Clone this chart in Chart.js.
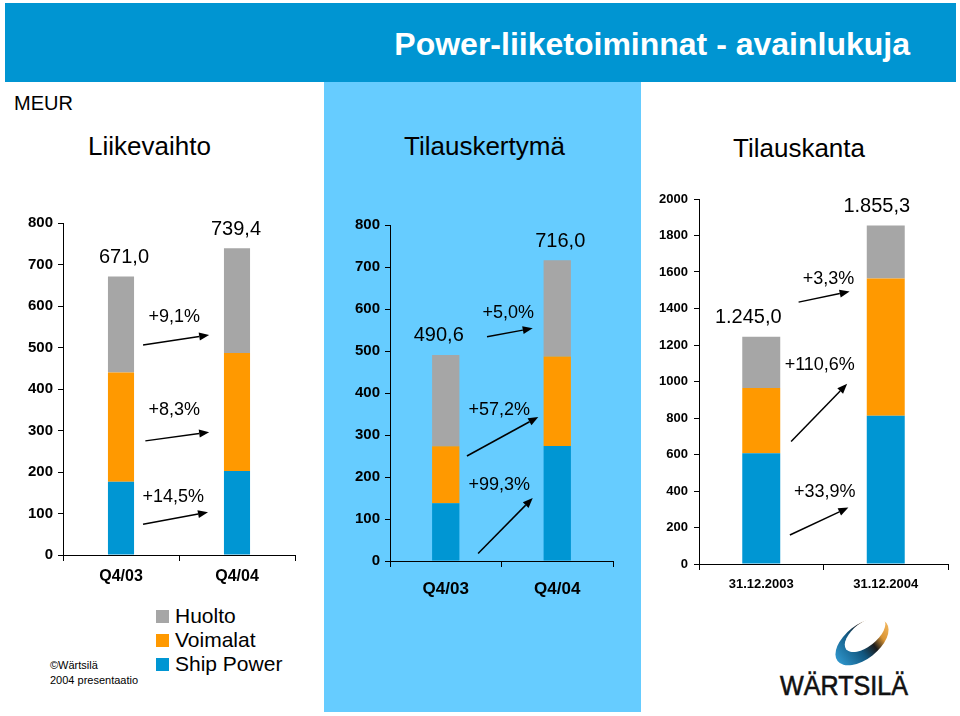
<!DOCTYPE html>
<html>
<head>
<meta charset="utf-8">
<script src="https://cdn.jsdelivr.net/npm/chart.js@4.4.1/dist/chart.umd.min.js"></script>
<style>
  body { margin:0; width:960px; height:716px; position:relative; overflow:hidden; background:#fff;
         font-family:"Liberation Sans", Arial, sans-serif; color:#000; }
  .abs { position:absolute; line-height:1; white-space:nowrap; }
  #header { position:absolute; left:5px; top:3px; width:951px; height:79px; background:#0095d2; }
  #title { right:46px; top:25px; font-size:32px; font-weight:bold; color:#fff; }
  #panel { position:absolute; left:324px; top:82px; width:317px; height:630px; background:#66ccff; }
  .sub { font-size:26px; top:133px; }
  canvas { position:absolute; }
  #legend { position:absolute; left:156px; top:604px; }
  #legend div { height:24px; font-size:21px; line-height:24px; display:flex; align-items:center; }
  #legend span.sw { width:13px; height:13px; margin-right:6px; display:inline-block; }
  #copy { left:50px; top:658px; font-size:11px; line-height:15px; }
</style>
</head>
<body>
<div id="header"><div id="title" class="abs">Power-liiketoiminnat - avainlukuja</div></div>
<div id="panel"></div>
<div class="abs" style="left:14px;top:93px;font-size:20px;">MEUR</div>
<div class="abs sub" style="left:88px;">Liikevaihto</div>
<div class="abs sub" style="left:404px;">Tilauskertymä</div>
<div class="abs sub" style="left:733px;top:135px;">Tilauskanta</div>

<canvas id="revChart" width="310" height="400" style="left:0;top:200px;"></canvas>
<canvas id="ordChart" width="300" height="400" style="left:330px;top:200px;"></canvas>
<canvas id="bookChart" width="310" height="420" style="left:645px;top:180px;"></canvas>

<div id="legend"></div>
<div id="copy" class="abs">©Wärtsilä<br>2004 presentaatio</div>

<svg style="position:absolute;left:770px;top:605px;" width="150" height="95" viewBox="0 0 150 95">
  <defs>
    <linearGradient id="ring" x1="0" y1="0" x2="1" y2="0">
      <stop offset="0" stop-color="#2f96cc"/>
      <stop offset="0.4" stop-color="#11567f"/>
      <stop offset="0.62" stop-color="#1b1b1b"/>
      <stop offset="0.8" stop-color="#d99434"/>
      <stop offset="1" stop-color="#f1b45a"/>
    </linearGradient>
  </defs>
  <g transform="rotate(-38 92 37)">
    <ellipse cx="92" cy="37" rx="31" ry="17" fill="url(#ring)"/>
    <ellipse cx="99" cy="33" rx="24" ry="12" fill="#fff"/>
  </g>
  <text x="10" y="90" font-family="'Liberation Sans', Arial, sans-serif" font-size="28" textLength="128" lengthAdjust="spacingAndGlyphs" fill="#111" stroke="#111" stroke-width="0.6">WÄRTSILÄ</text>
</svg>

<script>
"use strict";
const seriesNames  = ["Ship Power", "Voimalat", "Huolto"];
const seriesColors = ["#0096d3", "#ff9900", "#a6a6a6"];

// Liikevaihto
const revLabels  = ["Q4/03", "Q4/04"];
const revShip    = [176.6, 202.2];
const revPlants  = [263.0, 284.8];
const revService = [231.4, 252.4];
const revChanges = ["+14,5%", "+8,3%", "+9,1%"];

// Tilauskertymä
const ordLabels  = ["Q4/03", "Q4/04"];
const ordShip    = [137.5, 274.0];
const ordPlants  = [135.5, 213.0];
const ordService = [217.6, 229.0];
const ordChanges = ["+99,3%", "+57,2%", "+5,0%"];

// Tilauskanta
const bookLabels  = ["31.12.2003", "31.12.2004"];
const bookShip    = [607.0, 812.8];
const bookPlants  = [357.0, 751.8];
const bookService = [281.0, 290.7];
const bookChanges = ["+33,9%", "+110,6%", "+3,3%"];

const FONT = "'Liberation Sans', Arial, sans-serif";

function fiNumber(v) {
  const parts = v.toFixed(1).split(".");
  return parts[0].replace(/\B(?=(\d{3})+(?!\d))/g, ".") + "," + parts[1];
}

// legend
document.getElementById("legend").innerHTML = seriesNames.map((n, i) =>
  `<div><span class="sw" style="background:${seriesColors[i]}"></span>${n}</div>`).reverse().join("");

function drawArrow(ctx, x0, y0, x1, y1) {
  const a = Math.atan2(y1 - y0, x1 - x0), L = 10, W = 4;
  const bx = x1 - L * Math.cos(a), by = y1 - L * Math.sin(a);
  ctx.beginPath(); ctx.moveTo(x0, y0); ctx.lineTo(bx, by);
  ctx.lineWidth = 1.5; ctx.strokeStyle = "#000"; ctx.stroke();
  ctx.beginPath();
  ctx.moveTo(x1, y1);
  ctx.lineTo(bx + W * Math.sin(a), by - W * Math.cos(a));
  ctx.lineTo(bx - W * Math.sin(a), by + W * Math.cos(a));
  ctx.closePath(); ctx.fillStyle = "#000"; ctx.fill();
}

// totals above bars + change arrows, placed through the chart's scales
const notesPlugin = {
  id: "notes",
  afterDraw(chart, args, opts) {
    const ctx = chart.ctx, xs = chart.scales.x, ys = chart.scales.y;
    ctx.save();
    ctx.textAlign = "center"; ctx.textBaseline = "middle"; ctx.fillStyle = "#000";
    ctx.font = "20px " + FONT;
    chart.data.labels.forEach((lab, i) => {
      const total = chart.data.datasets.reduce((s, d) => s + d.data[i], 0);
      ctx.fillText(fiNumber(total), xs.getPixelForValue(i) + opts.totalDx[i], ys.getPixelForValue(total) - 19);
    });
    opts.arrows.forEach((a, i) => {
      ctx.font = "18px " + FONT; ctx.fillStyle = "#000";
      ctx.fillText(opts.changes[i], xs.getPixelForValue(a.label[0]), ys.getPixelForValue(a.label[1]));
      drawArrow(ctx, xs.getPixelForValue(a.from[0]), ys.getPixelForValue(a.from[1]),
                     xs.getPixelForValue(a.to[0]), ys.getPixelForValue(a.to[1]));
    });
    ctx.restore();
  }
};

function makeChart(id, labels, ship, plants, service, o) {
  const values = [ship, plants, service];
  return new Chart(document.getElementById(id), {
    type: "bar",
    data: {
      labels: labels,
      datasets: values.map((d, i) => ({
        label: seriesNames[i], data: d, backgroundColor: seriesColors[i], borderWidth: 0,
        barPercentage: o.barPct, categoryPercentage: 1
      }))
    },
    options: {
      responsive: false, animation: false, devicePixelRatio: 1,
      layout: { padding: { top: o.padTop, right: o.padRight, left: 0, bottom: 0 } },
      plugins: {
        legend: { display: false }, tooltip: { enabled: false },
        notes: { changes: o.changes, arrows: o.arrows, totalDx: o.totalDx }
      },
      scales: {
        x: {
          stacked: true,
          grid: { display: true, drawOnChartArea: false, drawTicks: true, tickLength: 6, color: "#000", offset: true },
          border: { display: true, color: "#000", width: 1 },
          ticks: { color: "#000", padding: o.xPad, font: { family: FONT, size: o.xFont, weight: "bold" } },
          afterFit: s => { s.height = o.xHeight; }
        },
        y: {
          stacked: true, min: 0, max: o.max,
          grid: { display: true, drawOnChartArea: false, drawTicks: true, tickLength: 5, color: "#000" },
          border: { display: true, color: "#000", width: 1 },
          ticks: { stepSize: o.step, color: "#000", padding: o.yPad, callback: v => String(v),
                   font: { family: FONT, size: o.yFont, weight: "bold" } },
          afterFit: s => { s.width = o.yWidth; }
        }
      }
    },
    plugins: [notesPlugin]
  });
}

makeChart("revChart", revLabels, revShip, revPlants, revService, {
  max: 800, step: 100, barPct: 0.225, padTop: 23, padRight: 15, yWidth: 63, xHeight: 45,
  xPad: 6, xFont: 16, yFont: 15, yPad: 5, changes: revChanges, totalDx: [3, -1],
  arrows: [
    { label: [0.45, 140], from: [0.19, 74],  to: [0.75, 103] },
    { label: [0.46, 349], from: [0.21, 275], to: [0.76, 296] },
    { label: [0.46, 574], from: [0.19, 506], to: [0.76, 530] }
  ]
});

makeChart("ordChart", ordLabels, ordShip, ordPlants, ordService, {
  max: 800, step: 100, barPct: 0.245, padTop: 25, padRight: 17, yWidth: 60, xHeight: 39,
  xPad: 12, xFont: 17, yFont: 15, yPad: 5, changes: ordChanges, totalDx: [-7, 3],
  arrows: [
    { label: [0.48, 180], from: [0.29, 18],  to: [0.78, 150] },
    { label: [0.48, 359], from: [0.19, 250], to: [0.83, 343] },
    { label: [0.56, 590], from: [0.37, 534], to: [0.78, 554] }
  ]
});

makeChart("bookChart", bookLabels, bookShip, bookPlants, bookService, {
  max: 2000, step: 200, barPct: 0.305, padTop: 19, padRight: 7, yWidth: 54, xHeight: 36,
  xPad: 7, xFont: 13, yFont: 13, yPad: 6, changes: bookChanges, totalDx: [-13, -9],
  arrows: [
    { label: [0.51, 396],  from: [0.23, 159],  to: [0.70, 309] },
    { label: [0.47, 1091], from: [0.24, 671],  to: [0.69, 987] },
    { label: [0.54, 1561], from: [0.30, 1435], to: [0.71, 1493] }
  ]
});
</script>
</body>
</html>
